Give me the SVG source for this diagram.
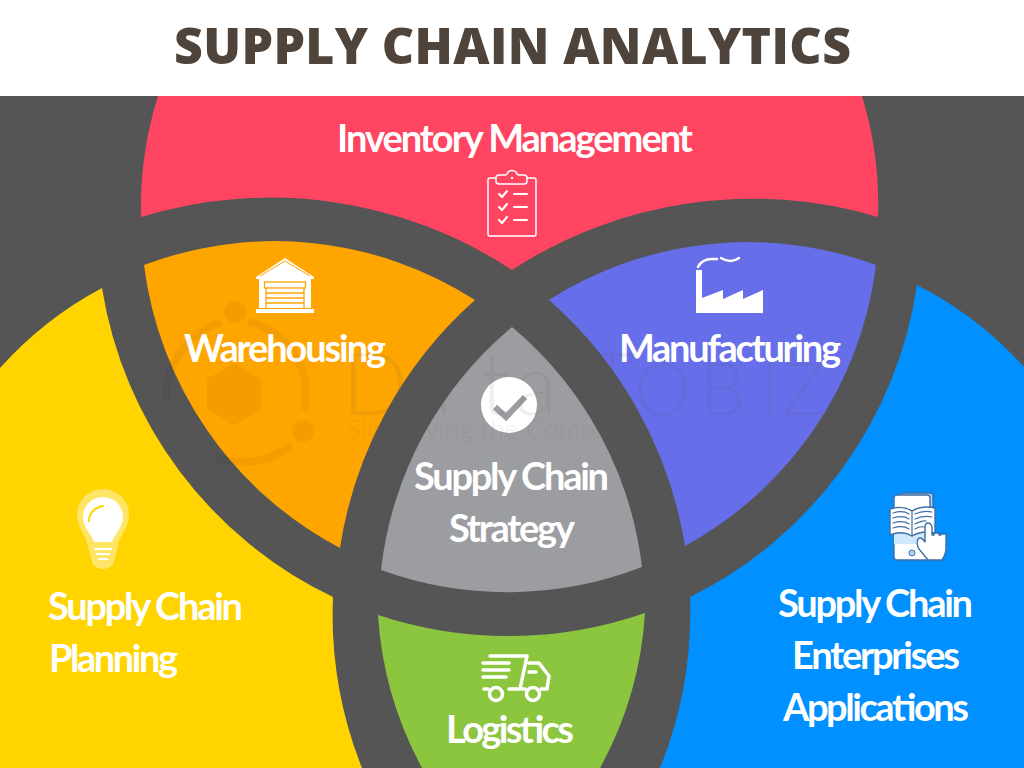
<svg xmlns="http://www.w3.org/2000/svg" width="1024" height="768" viewBox="0 0 1024 768">
<style>
.lb{font-family:Lato,"Open Sans",sans-serif;font-weight:700;font-size:38px;fill:#fff}
.ttl{font-family:"Open Sans","Liberation Sans",sans-serif;font-weight:800;font-size:50px;fill:#4e443c}
.wl{fill:none;stroke:#fff;stroke-linecap:round;stroke-linejoin:round}
.bk{fill:#fff;stroke:#3f6ea5;stroke-width:1.4;stroke-linejoin:round}
.bl{fill:none;stroke:#3f6ea5;stroke-width:1.2;stroke-linecap:round}
.wm{font-family:Lato,sans-serif;font-weight:300;fill:#555;opacity:.085}
</style>
<rect width="1024" height="768" fill="#555"/>
<rect width="1024" height="96" fill="#fff"/>
<text class="ttl" x="174" y="64" textLength="677" lengthAdjust="spacing">SUPPLY CHAIN ANALYTICS</text>

<g id="inventory">
<path fill="#ff4561" d="M158 96A372 372 0 0 0 141 217A440 440 0 0 1 512 270A440 440 0 0 1 878 217A372 372 0 0 0 862 96Z"/>
<text class="lb" x="337" y="152" textLength="356" lengthAdjust="spacing">Inventory Management</text>
<g class="wl" stroke-width="1.500">
<rect x="488" y="178" width="48" height="58" rx="2"/>
<path d="M496 178q0-3 3-3h6q2 0 3-3 4-3 8 0 1 3 3 3h5q3 0 3 3v3q0 3-3 3h-25q-3 0-3-3Z" fill="#ff4561"/>
<path d="M499 194l3 3 5-6M499 207l3 3 5-6M499 220l3 3 5-6M514 194h13M514 207h13M514 220h13" stroke-width="2"/>
</g>
<circle cx="512" cy="178" r="1.200" fill="#fff"/>
</g>

<g id="warehousing">
<path fill="#ffa500" d="M144 265A370 370 0 0 1 475 300A415 415 0 0 0 340 548A372 372 0 0 1 144 265Z"/>
<text class="lb" x="184" y="362" textLength="202" lengthAdjust="spacing">Warehousing</text>
<path fill="#fff" d="M256 277L285 258L314 277V279H311V308H259V279H256Z"/>
<path fill="none" stroke="#ffa500" d="M260 276L285 261L310 276"/>
<rect x="256" y="309" width="58" height="4" fill="#fff"/>
<g fill="none" stroke="#ffa500" stroke-width="1.300">
<rect x="264.500" y="282" width="41" height="6"/>
<path d="M266 288V308M304 288V308M266 293H304M266 298H304M266 303H304"/>
</g>
</g>

<g id="manufacturing">
<path fill="#676ee9" d="M549 300A370 370 0 0 1 876 265A372 372 0 0 1 685 546A415 415 0 0 0 549 300Z"/>
<text class="lb" x="619" y="362" textLength="222" lengthAdjust="spacing">Manufacturing</text>
<path fill="#fff" d="M696 270H702V298L723 290V299L743 290V299L763 290V313H696Z"/>
<path fill="none" stroke="#fff" stroke-width="2.400" stroke-linecap="round" d="M698 267Q702 259 712 259H717M721 258Q731 264 739 258"/>
</g>

<g id="strategy">
<path fill="#9c9da1" d="M512 327A370 370 0 0 1 642 567A372 372 0 0 1 381 570A370 370 0 0 1 512 327Z"/>
<circle cx="509" cy="405" r="28" fill="#fff"/>
<path fill="none" stroke="#9c9da1" stroke-width="6" d="M495 407L506 417L525 397"/>
<text class="lb" x="414" y="490" textLength="195" lengthAdjust="spacing">Supply Chain</text>
<text class="lb" x="449" y="542" textLength="126" lengthAdjust="spacing">Strategy</text>
</g>

<g id="planning">
<path fill="#ffd400" d="M0 368A370 370 0 0 1 102 288A415 415 0 0 0 333 597A415 415 0 0 0 362 768H0Z"/>
<path fill="#fff" opacity=".4" d="M77 515A26 26 0 0 1 129 515C129 528 119 535 117 550L113 565Q103 573 93 565L89 550C87 535 77 528 77 515Z"/>
<path fill="#fff" d="M83 517A20 20 0 0 1 123 517C123 528 115 533 112 542H94C91 533 83 528 83 517Z"/>
<path fill="none" stroke="#ffd400" stroke-width="2" stroke-linecap="round" d="M89 521Q89 509 103 506"/>
<path fill="#fff" d="M94 548h18v2h-18zM96 553h14v2h-14zM98 558h10v2h-10z"/>
<text class="lb" x="48" y="620" textLength="195" lengthAdjust="spacing">Supply Chain</text>
<text class="lb" x="49" y="672" textLength="129" lengthAdjust="spacing">Planning</text>
</g>

<g id="logistics">
<path fill="#8cc63f" d="M378 615A415 415 0 0 0 645 613A370 370 0 0 1 600 768H422A370 370 0 0 1 378 615Z"/>
<g class="wl" stroke-width="3.500">
<path d="M490 656H527L520 689H509M488 689H484M529 663H539L549 676L547 689H541M525 689H522"/>
<path d="M483 663H509M483 670H509M483 677H506M529 672H536"/>
<circle cx="496" cy="694" r="6.500"/>
<circle cx="533" cy="694" r="6.500"/>
</g>
<text class="lb" x="446" y="743" textLength="128" lengthAdjust="spacing">Logistics</text>
</g>

<g id="enterprises">
<path fill="#0090ff" d="M917 285A370 370 0 0 1 1024 367V768H660A415 415 0 0 0 690 597A415 415 0 0 0 917 285Z"/>
<rect x="900" y="493" width="33" height="62" rx="3" fill="#a8d6fb" stroke="#3f6ea5" stroke-width="1.400"/>
<rect x="894" y="495" width="36" height="65" rx="3" class="bk"/>
<rect x="894" y="510" width="36" height="34" fill="#cfe8fb"/>
<circle cx="912" cy="553" r="3" fill="#a8d6fb" stroke="#3f6ea5"/>
<path class="bk" d="M890 509Q902 505 912 511Q922 505 935 508V533Q922 530 912 536Q902 530 890 535Z"/>
<path class="bl" d="M912 511V536M893 513Q903 510 909 514M893 518Q903 515 909 519M893 523Q903 520 909 524M893 528Q903 525 909 529M915 514Q923 510 932 512M915 519Q923 515 932 517M915 524Q923 520 926 521M915 529Q920 526 924 527"/>
<path class="bk" d="M925 540V527Q925 523 928 523T932 527V535H934V533H939V535H941V534H946V550Q945 556 942 560H928L919 549Q916 544 918 539Q921 536 925 542Z"/>
<text class="lb" x="778" y="617" textLength="195" lengthAdjust="spacing">Supply Chain</text>
<text class="lb" x="792" y="669" textLength="168" lengthAdjust="spacing">Enterprises</text>
<text class="lb" x="783" y="721" textLength="186" lengthAdjust="spacing">Applications</text>
</g>

<g id="watermark">
<text class="wm" y="415" font-size="87" x="342 410 480 515 587">DataT</text>
<text class="wm" y="415" font-size="72" x="634 700 760 782">OBIZ</text>
<text class="wm" x="347" y="438" font-size="26" textLength="280" lengthAdjust="spacing">Simplifying the Complex</text>
<g opacity=".045" fill="#000">
<path d="M234 363L261 379V409L234 425L207 409V379Z"/>
<circle cx="235" cy="312" r="11"/>
<circle cx="303" cy="431" r="11"/>
</g>
<g opacity=".045" fill="none" stroke="#000" stroke-width="8">
<path d="M248 322A73 73 0 0 1 304 410M222 322A80 80 0 0 0 166 400M292 445Q260 470 215 458"/>
</g>
</g>
</svg>
